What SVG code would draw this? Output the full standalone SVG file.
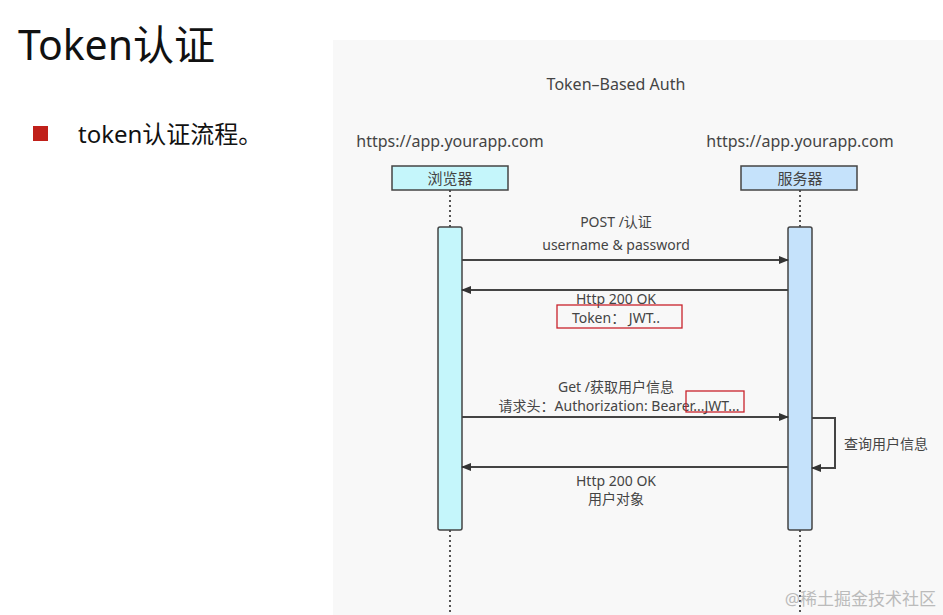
<svg xmlns="http://www.w3.org/2000/svg" width="943" height="615" viewBox="0 0 943 615">
<style>
text{font-family:"Noto Sans","Noto Sans CJK SC",sans-serif;fill:#444}
.l{font-size:14px;text-anchor:middle}
.life{stroke:#555;stroke-width:2;stroke-dasharray:2,3}
.msg{stroke:#444;stroke-width:2;fill:none}
.hl{fill:none;stroke:#c8232c;stroke-width:1.3}
</style>
<defs><marker id="ah" markerWidth="10" markerHeight="8" refX="9" refY="4" orient="auto" markerUnits="userSpaceOnUse"><path d="M0,0L10,4L0,8z" fill="#333"/></marker></defs>
<rect width="943" height="615" fill="#fff"/>
<rect x="333" y="40" width="610" height="575" fill="#f8f8f8"/>
<text x="18" y="60" style="font-size:41px;fill:#111">Token认证</text>
<rect x="33" y="126" width="15" height="15" fill="#c0201a"/>
<text x="78" y="143" style="font-size:24px;fill:#111">token认证流程。</text>
<text x="616" y="90" class="l" style="font-size:16px">Token–Based Auth</text>
<text x="450" y="147" class="l" style="font-size:16px">https://app.yourapp.com</text>
<text x="800" y="147" class="l" style="font-size:16px">https://app.yourapp.com</text>
<g id="lifelines"><line x1="450" y1="190" x2="450" y2="615" class="life"/><line x1="800" y1="190" x2="800" y2="615" class="life"/></g>
<g id="browser"><rect x="392" y="166" width="116" height="24" fill="#c5f6fb" stroke="#444" stroke-width="1.5"/><text x="450" y="184" class="l" style="font-size:15px">浏览器</text>
<rect x="438" y="227" width="24" height="303" rx="2" fill="#c5f6fb" stroke="#444" stroke-width="1.5"/></g>
<g id="server"><rect x="741" y="166" width="116" height="24" fill="#c5e2fb" stroke="#444" stroke-width="1.5"/><text x="800" y="184" class="l" style="font-size:15px">服务器</text>
<rect x="788" y="227" width="24" height="303" rx="2" fill="#c5e2fb" stroke="#444" stroke-width="1.5"/></g>
<g id="connectors">
<line x1="462" y1="260" x2="788" y2="260" class="msg" marker-end="url(#ah)"/>
<line x1="788" y1="290" x2="462" y2="290" class="msg" marker-end="url(#ah)"/>
<line x1="462" y1="417" x2="788" y2="417" class="msg" marker-end="url(#ah)"/>
<line x1="788" y1="467" x2="462" y2="467" class="msg" marker-end="url(#ah)"/>
<path d="M812,418H835V468H812" class="msg" marker-end="url(#ah)"/>
</g>
<g id="labels">
<text x="616" y="227" class="l">POST /认证</text>
<text x="616" y="250" class="l">username &amp; password</text>
<text x="616" y="304" class="l">Http 200 OK</text>
<text x="616" y="323" class="l">Token：  JWT..</text>
<rect x="557" y="305" width="125" height="23" class="hl"/>
<text x="616" y="392" class="l">Get /获取用户信息</text>
<text x="619" y="411" class="l">请求头：Authorization: Bearer...JWT...</text>
<rect x="686" y="391" width="58" height="21" class="hl"/>
<text x="886" y="449" class="l">查询用户信息</text>
<text x="616" y="486" class="l">Http 200 OK</text>
<text x="616" y="504" class="l">用户对象</text>
</g>
<text x="936" y="605" style="font-size:17px;fill:#bbb;text-anchor:end">@稀土掘金技术社区</text>
</svg>
